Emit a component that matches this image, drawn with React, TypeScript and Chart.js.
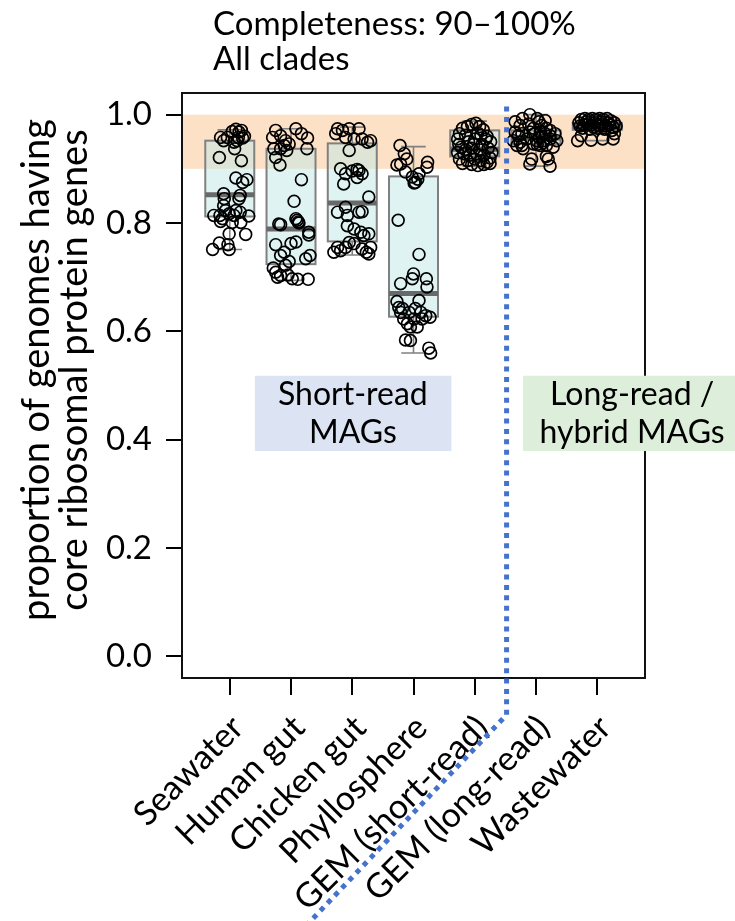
import React, { useEffect, useRef } from 'react';
import { Chart, registerables } from 'chart.js';

Chart.register(...registerables);

const FONT = 'Lato, "Open Sans", sans-serif';

const categories = ['Seawater', 'Human gut', 'Chicken gut', 'Phyllosphere', 'GEM (short-read)', 'GEM (long-read)', 'Wastewater'];
const yTicks = [0, 0.2, 0.4, 0.6, 0.8, 1.0];

// boxplot statistics per category
const whiskerLow = [0.751, 0.694, 0.741, 0.560, 0.905, 0.905, 0.952];
const quartile1 = [0.812, 0.724, 0.766, 0.627, 0.923, 0.946, 0.972];
const medians = [0.852, 0.789, 0.837, 0.670, 0.936, 0.957, 0.978];
const quartile3 = [0.952, 0.937, 0.947, 0.886, 0.971, 0.971, 0.985];
const whiskerHigh = [0.972, 0.974, 0.977, 0.941, 0.988, 1.0, 0.995];

// jittered points: [offset from category centre, value]
const seawaterPts = [
  [-0.15, 0.958], [-0.10, 0.952], [-0.04, 0.958], [0.04, 0.969], [0.10, 0.973], [0.15, 0.968], [0.19, 0.971],
  [0.14, 0.958], [0.21, 0.957], [0.24, 0.960], [0.07, 0.949], [0.12, 0.952], [0.08, 0.937], [-0.17, 0.921],
  [0.19, 0.915], [0.10, 0.883], [0.21, 0.875], [0.28, 0.880], [-0.10, 0.854], [-0.09, 0.845], [0.17, 0.851],
  [0.15, 0.845], [-0.10, 0.832], [-0.07, 0.823], [0.10, 0.823], [-0.26, 0.814], [-0.16, 0.814], [-0.12, 0.808],
  [-0.01, 0.817], [0.07, 0.814], [0.17, 0.820], [0.31, 0.813], [-0.15, 0.803], [0.04, 0.801], [0.18, 0.801],
  [-0.01, 0.780], [0.26, 0.779], [-0.17, 0.763], [-0.28, 0.751], [-0.03, 0.760], [-0.01, 0.751],
];
const humanGutPts = [
  [-0.25, 0.971], [-0.30, 0.958], [-0.17, 0.961], [-0.09, 0.952], [-0.03, 0.946], [-0.11, 0.943], [0.08, 0.974],
  [0.17, 0.965], [0.27, 0.957], [0.26, 0.937], [-0.28, 0.937], [-0.17, 0.937], [-0.07, 0.934], [-0.25, 0.921],
  [-0.18, 0.907], [0.17, 0.880], [0.05, 0.840], [0.10, 0.805], [0.12, 0.802], [0.08, 0.808], [-0.20, 0.798],
  [-0.17, 0.797], [0.13, 0.800], [0.29, 0.783], [0.29, 0.778], [-0.25, 0.760], [0.00, 0.762], [0.08, 0.765],
  [-0.11, 0.746], [-0.17, 0.740], [-0.03, 0.729], [0.31, 0.740], [0.24, 0.734], [-0.29, 0.717], [-0.25, 0.709],
  [-0.22, 0.700], [-0.17, 0.703], [-0.05, 0.704], [0.02, 0.697], [0.11, 0.696], [0.28, 0.696], [-0.09, 0.722],
];
const chickenGutPts = [
  [-0.24, 0.974], [-0.16, 0.971], [-0.05, 0.974], [0.11, 0.974], [-0.27, 0.965], [-0.11, 0.958], [0.03, 0.955],
  [0.16, 0.955], [0.25, 0.949], [0.30, 0.952], [-0.05, 0.934], [-0.19, 0.900], [-0.11, 0.891], [0.11, 0.897],
  [0.16, 0.891], [0.08, 0.884], [0.00, 0.896], [0.08, 0.899], [-0.14, 0.872], [0.27, 0.848], [-0.24, 0.820],
  [-0.11, 0.829], [-0.08, 0.814], [0.11, 0.820], [0.16, 0.821], [-0.08, 0.795], [0.03, 0.789], [0.14, 0.783],
  [0.19, 0.777], [0.27, 0.780], [-0.24, 0.755], [-0.19, 0.749], [-0.11, 0.755], [-0.05, 0.764], [0.03, 0.762],
  [0.16, 0.752], [0.27, 0.743], [0.30, 0.755], [-0.30, 0.746], [0.23, 0.746],
];
const phyllospherePts = [
  [-0.22, 0.943], [-0.15, 0.928], [-0.11, 0.918], [-0.27, 0.907], [-0.21, 0.909], [-0.13, 0.894], [-0.02, 0.885],
  [0.03, 0.875], [0.07, 0.881], [0.09, 0.891], [0.23, 0.912], [0.22, 0.903], [0.01, 0.874], [-0.25, 0.805],
  [0.09, 0.742], [0.00, 0.706], [-0.02, 0.697], [0.21, 0.697], [0.22, 0.682], [-0.21, 0.688], [-0.27, 0.655],
  [-0.24, 0.644], [-0.21, 0.635], [-0.16, 0.623], [-0.10, 0.614], [0.01, 0.623], [0.09, 0.657], [0.12, 0.635],
  [0.20, 0.629], [0.27, 0.626], [-0.05, 0.608], [0.06, 0.608], [-0.13, 0.584], [-0.05, 0.583], [0.25, 0.569],
  [0.28, 0.560], [-0.18, 0.642], [-0.07, 0.635], [0.03, 0.642], [0.14, 0.623],
];
const gemShortPts = [
  [-0.20, 0.975], [-0.12, 0.978], [-0.05, 0.982], [0.02, 0.984], [0.08, 0.978], [0.14, 0.972], [-0.25, 0.965],
  [-0.15, 0.962], [0.05, 0.966], [0.20, 0.960], [0.26, 0.950], [-0.28, 0.955], [-0.10, 0.950], [0.00, 0.955],
  [0.12, 0.945], [-0.22, 0.940], [-0.05, 0.938], [0.08, 0.935], [0.22, 0.938], [0.28, 0.930], [-0.28, 0.930],
  [-0.18, 0.928], [-0.08, 0.925], [0.03, 0.928], [0.15, 0.925], [0.25, 0.920], [-0.25, 0.918], [-0.12, 0.915],
  [0.00, 0.918], [0.10, 0.915], [0.20, 0.912], [-0.20, 0.910], [-0.05, 0.908], [0.05, 0.906], [0.15, 0.908],
  [0.25, 0.910], [-0.15, 0.935], [0.18, 0.955], [-0.02, 0.945], [0.10, 0.962], [-0.26, 0.945],
];
const gemLongPts = [
  [-0.10, 1.0], [-0.22, 0.993], [0.02, 0.993], [0.05, 0.987], [0.15, 0.989], [-0.34, 0.987], [-0.26, 0.980],
  [-0.12, 0.983], [-0.04, 0.975], [0.09, 0.980], [0.17, 0.975], [0.23, 0.971], [-0.34, 0.968], [-0.29, 0.961],
  [-0.23, 0.965], [-0.10, 0.968], [-0.02, 0.965], [0.07, 0.968], [0.15, 0.965], [0.23, 0.961], [0.31, 0.965],
  [-0.37, 0.952], [-0.26, 0.949], [-0.15, 0.955], [0.01, 0.952], [0.12, 0.952], [0.23, 0.955], [0.34, 0.952],
  [-0.31, 0.943], [-0.21, 0.937], [-0.04, 0.946], [0.07, 0.943], [0.17, 0.943], [0.28, 0.940], [-0.07, 0.918],
  [-0.10, 0.909], [0.17, 0.923], [0.20, 0.918], [0.23, 0.905], [-0.23, 0.943], [0.05, 0.958], [0.10, 0.960],
  [0.12, 0.948], [0.02, 0.945],
];
const wastewaterPts = [
  [-0.30, 0.985], [-0.26, 0.991], [-0.20, 0.993], [-0.14, 0.991], [-0.08, 0.993], [-0.02, 0.991], [0.04, 0.993],
  [0.10, 0.991], [0.16, 0.993], [0.22, 0.989], [0.28, 0.985], [-0.28, 0.979], [-0.22, 0.981], [-0.16, 0.983],
  [-0.10, 0.981], [-0.04, 0.985], [0.02, 0.981], [0.08, 0.983], [0.14, 0.979], [0.20, 0.981], [0.26, 0.977],
  [0.31, 0.979], [-0.24, 0.975], [-0.12, 0.973], [0.00, 0.975], [0.12, 0.973], [0.24, 0.971], [-0.18, 0.987],
  [0.06, 0.987], [0.18, 0.985], [-0.32, 0.952], [-0.10, 0.953], [0.09, 0.955], [0.26, 0.955], [-0.26, 0.961],
  [0.28, 0.965], [-0.06, 0.977], [0.04, 0.979],
];
const pointGroups = [seawaterPts, humanGutPts, chickenGutPts, phyllospherePts, gemShortPts, gemLongPts, wastewaterPts];

// highlighted band (high completeness)
const bandRange = [0.9, 1.0];
// dotted divider path in data units [x, y]
const dividerPath = [[5.52, 1.015], [5.52, -0.108], [2.09, -0.516]];
// annotation boxes: [x0, x1, yTop, yBottom, textX]
const shortReadBox = [1.41, 4.62, 0.518, 0.379, 3.01];
const longReadBox = [5.79, 9.4, 0.518, 0.379, 7.57];
const shortReadText = ['Short-read', 'MAGs'];
const longReadText = ['Long-read /', 'hybrid MAGs'];
const titleLines = ['Completeness: 90–100%', 'All clades'];
const yTitleLines = ['proportion of genomes having', 'core ribosomal protein genes'];

const decor = {
  id: 'decor',
  beforeDatasetsDraw(chart: any) {
    const { ctx, chartArea, scales } = chart;
    const x = scales.x;
    const y = scales.y;
    ctx.save();
    // band
    ctx.fillStyle = 'rgb(253,225,198)';
    const bTop = y.getPixelForValue(bandRange[1]);
    const bBot = y.getPixelForValue(bandRange[0]);
    ctx.fillRect(chartArea.left, bTop, chartArea.right - chartArea.left, bBot - bTop);
    // boxes
    categories.forEach((_, i) => {
      const c = x.getPixelForValue(i + 1);
      const half = x.getPixelForValue(i + 1.4) - c;
      const cap = x.getPixelForValue(i + 1.2) - c;
      const pLo = y.getPixelForValue(whiskerLow[i]);
      const pQ1 = y.getPixelForValue(quartile1[i]);
      const pMed = y.getPixelForValue(medians[i]);
      const pQ3 = y.getPixelForValue(quartile3[i]);
      const pHi = y.getPixelForValue(whiskerHigh[i]);
      ctx.strokeStyle = 'rgb(128,128,128)';
      ctx.lineWidth = 1.6;
      ctx.beginPath();
      ctx.moveTo(c, pQ1); ctx.lineTo(c, pLo);
      ctx.moveTo(c - cap, pLo); ctx.lineTo(c + cap, pLo);
      ctx.moveTo(c, pQ3); ctx.lineTo(c, pHi);
      ctx.moveTo(c - cap, pHi); ctx.lineTo(c + cap, pHi);
      ctx.stroke();
      ctx.fillStyle = 'rgba(192,234,230,0.5)';
      ctx.fillRect(c - half, pQ3, 2 * half, pQ1 - pQ3);
      ctx.lineWidth = 2;
      ctx.strokeRect(c - half, pQ3, 2 * half, pQ1 - pQ3);
      ctx.strokeStyle = 'rgb(105,105,105)';
      ctx.lineWidth = 5;
      ctx.beginPath();
      ctx.moveTo(c - half, pMed); ctx.lineTo(c + half, pMed);
      ctx.stroke();
    });
    ctx.restore();
  },
  afterDraw(chart: any) {
    const { ctx, chartArea, scales } = chart;
    const x = scales.x;
    const y = scales.y;
    ctx.save();
    // frame
    ctx.strokeStyle = '#111';
    ctx.lineWidth = 2;
    ctx.strokeRect(chartArea.left, chartArea.top, chartArea.right - chartArea.left, chartArea.bottom - chartArea.top);

    ctx.fillStyle = '#000';
    // title
    ctx.font = `33px ${FONT}`;
    ctx.textAlign = 'left';
    ctx.textBaseline = 'alphabetic';
    ctx.fillText(titleLines[0], 213, 35);
    ctx.fillText(titleLines[1], 213, 70);

    // y-axis title
    ctx.save();
    ctx.translate(37, 370);
    ctx.rotate(-Math.PI / 2);
    ctx.textAlign = 'center';
    ctx.textBaseline = 'middle';
    ctx.font = `38px ${FONT}`;
    ctx.fillText(yTitleLines[0], 0, 0);
    ctx.fillText(yTitleLines[1], 0, 38);
    ctx.restore();

    // x tick labels rotated
    ctx.font = `34px ${FONT}`;
    categories.forEach((lab, i) => {
      const px = x.getPixelForValue(i + 1);
      ctx.save();
      ctx.translate(px + 8, chartArea.bottom + 44);
      ctx.rotate(-Math.PI / 4);
      ctx.textAlign = 'right';
      ctx.textBaseline = 'middle';
      ctx.fillText(lab, 0, 0);
      ctx.restore();
    });

    // annotation boxes
    const drawBox = (b: number[], lines: string[], fill: string) => {
      const x0 = x.getPixelForValue(b[0]);
      const x1 = x.getPixelForValue(b[1]);
      const y0 = y.getPixelForValue(b[2]);
      const y1 = y.getPixelForValue(b[3]);
      ctx.fillStyle = fill;
      ctx.fillRect(x0, y0, x1 - x0, y1 - y0);
      ctx.fillStyle = '#000';
      ctx.font = `32px ${FONT}`;
      ctx.textAlign = 'center';
      ctx.textBaseline = 'middle';
      const tx = x.getPixelForValue(b[4]);
      const mid = (y0 + y1) / 2;
      ctx.fillText(lines[0], tx, mid - 19);
      ctx.fillText(lines[1], tx, mid + 19);
    };
    drawBox(shortReadBox, shortReadText, 'rgb(220,228,243)');
    drawBox(longReadBox, longReadText, 'rgb(221,238,218)');

    // dotted divider
    ctx.strokeStyle = 'rgb(68,114,204)';
    ctx.lineWidth = 5;
    ctx.setLineDash([5, 5.4]);
    ctx.beginPath();
    dividerPath.forEach((p, k) => {
      const px = x.getPixelForValue(p[0]);
      const py = y.getPixelForValue(p[1]);
      if (k === 0) ctx.moveTo(px, py); else ctx.lineTo(px, py);
    });
    ctx.stroke();
    ctx.restore();
  },
};

export default function App() {
  const ref = useRef<HTMLCanvasElement>(null);
  useEffect(() => {
    document.body.style.margin = '0';
    const pts: { x: number; y: number }[] = [];
    pointGroups.forEach((g, i) => g.forEach(([o, v]) => pts.push({ x: i + 1 + o, y: v })));
    const chart = new Chart(ref.current as HTMLCanvasElement, {
      type: 'scatter',
      data: {
        datasets: [{
          data: pts,
          pointRadius: 5.9,
          pointHoverRadius: 5.9,
          pointBorderWidth: 1.7,
          pointBackgroundColor: 'rgba(0,0,0,0)',
          pointBorderColor: '#000',
        }],
      },
      options: {
        animation: false,
        responsive: false,
        devicePixelRatio: 1,
        events: [],
        layout: { padding: { top: 93, right: 90, left: 0, bottom: 0 } },
        plugins: { legend: { display: false }, tooltip: { enabled: false } },
        scales: {
          x: {
            type: 'linear',
            min: 0.22,
            max: 7.78,
            afterFit: (s: any) => { s.height = 243; },
            afterBuildTicks: (s: any) => { s.ticks = categories.map((_, i) => ({ value: i + 1 })); },
            ticks: { display: false },
            grid: { drawOnChartArea: false, drawTicks: true, tickLength: 17, color: '#000', lineWidth: 2 },
            border: { display: false },
          },
          y: {
            type: 'linear',
            min: -0.04,
            max: 1.04,
            afterFit: (s: any) => { s.width = 182; },
            afterBuildTicks: (s: any) => { s.ticks = yTicks.map((v) => ({ value: v })); },
            ticks: {
              callback: (v: any) => Number(v).toFixed(1),
              font: { family: FONT, size: 33 },
              color: '#000',
              padding: 14,
            },
            grid: { drawOnChartArea: false, drawTicks: true, tickLength: 16, color: '#000', lineWidth: 2 },
            border: { display: false },
          },
        },
      },
      plugins: [decor],
    });
    return () => chart.destroy();
  }, []);
  return <canvas ref={ref} width={735} height={921} style={{ display: 'block' }} />;
}
